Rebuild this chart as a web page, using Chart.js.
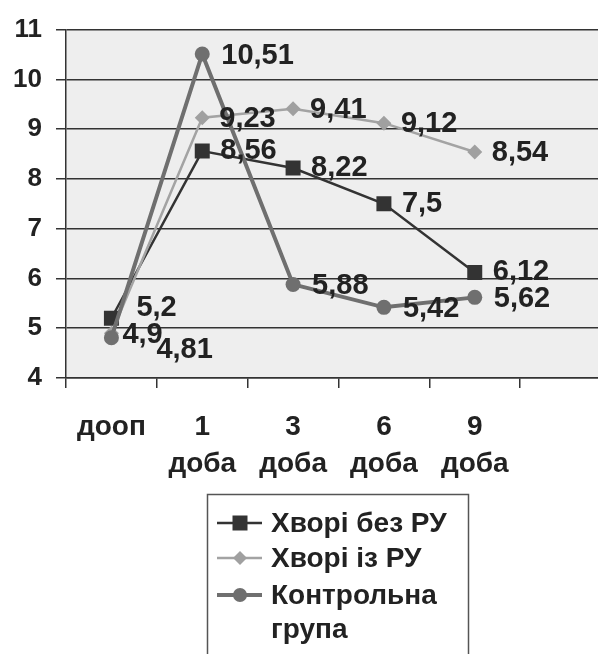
<!DOCTYPE html>
<html>
<head>
<meta charset="utf-8">
<script src="https://cdn.jsdelivr.net/npm/chart.js@4/dist/chart.umd.min.js"></script>
<style>
  html, body { margin: 0; padding: 0; background: #fff; overflow: hidden; }
</style>
</head>
<body>
<canvas id="c" width="598" height="654"></canvas>
<script>
const categories = [["дооп"], ["1", "доба"], ["3", "доба"], ["6", "доба"], ["9", "доба"], [""]];
const seriesNames = ["Хворі без РУ", "Хворі із РУ", ["Контрольна", "група"]];
const withoutRU = [5.2, 8.56, 8.22, 7.5, 6.12];
const withRU = [4.9, 9.23, 9.41, 9.12, 8.54];
const controlGroup = [4.81, 10.51, 5.88, 5.42, 5.62];
const yTicks = [4, 5, 6, 7, 8, 9, 10, 11];

const FONT = '"Liberation Sans", Arial, sans-serif';
const TXT = '#222';

// label offsets (style only)
const labelOffsets = [
  { def: [18, 0], first: [25, -10] },
  { def: [17, 1], first: [11, 2] },
  { def: [19, 2], first: [45, 12] }
];

// plot area continues past the right edge of the picture (cropped)
const extendRight = {
  id: 'extendRight',
  afterLayout(chart) {
    const ext = 13;
    const a = chart.chartArea;
    a.right += ext; a.width += ext;
    const x = chart.scales.x;
    x.right += ext; x.width += ext;
    x.configure();
  }
};

const plotBg = {
  id: 'plotBg',
  beforeDraw(chart) {
    const { ctx, chartArea: a } = chart;
    ctx.save();
    ctx.fillStyle = '#fff';
    ctx.fillRect(0, 0, chart.width, chart.height);
    ctx.fillStyle = '#eeeeee';
    ctx.fillRect(a.left, a.top, a.right - a.left, a.bottom - a.top);
    ctx.restore();
  }
};

const valueLabels = {
  id: 'valueLabels',
  afterDatasetsDraw(chart) {
    const ctx = chart.ctx;
    ctx.save();
    ctx.font = 'bold 29px ' + FONT;
    ctx.fillStyle = TXT;
    ctx.textAlign = 'left';
    ctx.textBaseline = 'middle';
    chart.data.datasets.forEach((ds, di) => {
      const meta = chart.getDatasetMeta(di);
      meta.data.forEach((pt, i) => {
        const v = ds.data[i];
        if (v == null) return;
        const off = i === 0 ? labelOffsets[di].first : labelOffsets[di].def;
        ctx.fillText(String(v).replace('.', ','), pt.x + off[0], pt.y + off[1]);
      });
    });
    ctx.restore();
  }
};

const boxLegend = {
  id: 'boxLegend',
  afterDraw(chart) {
    const ctx = chart.ctx;
    ctx.save();
    ctx.strokeStyle = '#555';
    ctx.lineWidth = 1.5;
    ctx.strokeRect(207.5, 494.5, 261, 200);
    const rows = [523, 558, 595];
    chart.data.datasets.forEach((ds, i) => {
      const y = rows[i];
      ctx.strokeStyle = ds.borderColor;
      ctx.lineWidth = ds.borderWidth;
      ctx.beginPath();
      ctx.moveTo(217, y);
      ctx.lineTo(262, y);
      ctx.stroke();
      ctx.fillStyle = ds.pointBackgroundColor;
      const cx = 240;
      ctx.beginPath();
      if (ds.pointStyle === 'rect') {
        ctx.rect(cx - 7.5, y - 7.5, 15, 15);
      } else if (ds.pointStyle === 'rectRot') {
        ctx.moveTo(cx, y - 7); ctx.lineTo(cx + 7, y); ctx.lineTo(cx, y + 7); ctx.lineTo(cx - 7, y); ctx.closePath();
      } else {
        ctx.arc(cx, y, 7, 0, Math.PI * 2);
      }
      ctx.fill();
      ctx.fillStyle = TXT;
      ctx.font = 'bold 28px ' + FONT;
      ctx.textAlign = 'left';
      ctx.textBaseline = 'middle';
      const name = seriesNames[i];
      const lines = Array.isArray(name) ? name : [name];
      lines.forEach((ln, k) => ctx.fillText(ln, 271, y + 1 + k * 34));
    });
    ctx.restore();
  }
};

new Chart(document.getElementById('c'), {
  type: 'line',
  data: {
    labels: categories,
    datasets: [
      {
        label: 'Хворі без РУ', data: withoutRU, order: 3,
        borderColor: '#333333', backgroundColor: '#333333', borderWidth: 2.5,
        pointStyle: 'rect', pointRadius: 10.6, pointBackgroundColor: '#333333', pointBorderWidth: 0,
        tension: 0, fill: false
      },
      {
        label: 'Хворі із РУ', data: withRU, order: 2,
        borderColor: '#a3a3a3', backgroundColor: '#a3a3a3', borderWidth: 2.5,
        pointStyle: 'rectRot', pointRadius: 7.5, pointBackgroundColor: '#a0a0a0', pointBorderWidth: 0,
        tension: 0, fill: false
      },
      {
        label: 'Контрольна група', data: controlGroup, order: 1,
        borderColor: '#6f6f6f', backgroundColor: '#6f6f6f', borderWidth: 4,
        pointStyle: 'circle', pointRadius: 7.5, pointBackgroundColor: '#6f6f6f', pointBorderWidth: 0,
        tension: 0, fill: false
      }
    ]
  },
  options: {
    responsive: false,
    animation: false,
    layout: { autoPadding: false, padding: { top: 25, right: 0, bottom: 176, left: 0 } },
    plugins: { legend: { display: false }, tooltip: { enabled: false } },
    scales: {
      x: {
        type: 'category',
        offset: true,
        grid: { offset: true, drawOnChartArea: false, drawTicks: true, tickLength: 10, color: '#333', lineWidth: 1.5 },
        border: { display: true, color: '#333', width: 1.5 },
        ticks: {
          color: TXT, font: { family: FONT, size: 28, weight: 'bold', lineHeight: 1.32 },
          padding: 21, maxRotation: 0, minRotation: 0, autoSkip: false
        },
        afterFit(s) { s.height = 100; s.paddingLeft = 0; s.paddingRight = 0; }
      },
      y: {
        min: yTicks[0], max: yTicks[yTicks.length - 1],
        afterBuildTicks(s) { s.ticks = yTicks.map(v => ({ value: v })); },
        grid: { color: '#333', lineWidth: 1.5, tickLength: 10, drawTicks: true },
        border: { display: true, color: '#333', width: 1.5 },
        ticks: { color: TXT, font: { family: FONT, size: 26, weight: 'bold' }, padding: 14 },
        afterFit(s) { s.width = 66; }
      }
    }
  },
  plugins: [extendRight, plotBg, valueLabels, boxLegend]
});
</script>
</body>
</html>
